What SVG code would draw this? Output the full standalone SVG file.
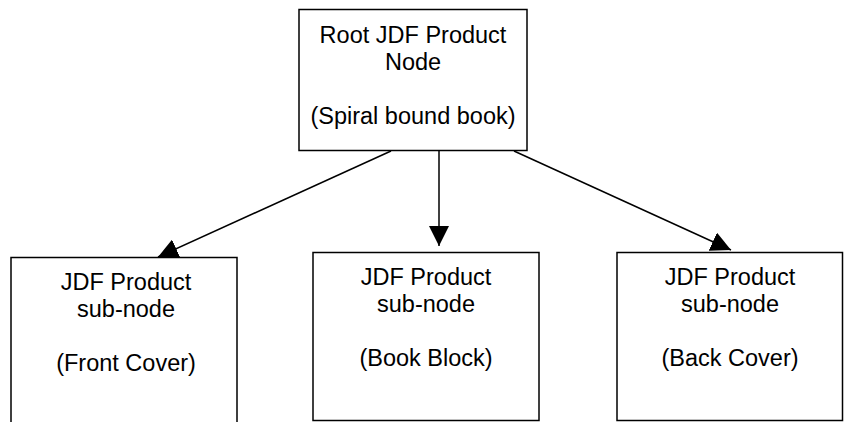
<svg xmlns="http://www.w3.org/2000/svg" width="844" height="422" viewBox="0 0 844 422">
<defs>
<style>
.box{fill:#fff;stroke:#000;stroke-width:1.5}
.lbl{font-family:"Liberation Sans",Arial,sans-serif;font-size:23.5px;fill:#000;text-anchor:middle}
.conn{stroke:#000;stroke-width:1.5;fill:none;marker-end:url(#ah)}
</style>
<marker id="ah" markerUnits="userSpaceOnUse" markerWidth="20" markerHeight="20" refX="20" refY="10" orient="auto">
<path d="M0,0 L20,10 L0,20 Z" fill="#000"/>
</marker>
</defs>
<rect width="844" height="422" fill="#fff"/>
<g id="connectors">
<line class="conn" x1="391" y1="151" x2="158" y2="257"/>
<line class="conn" x1="439" y1="151" x2="439" y2="246"/>
<line class="conn" x1="514" y1="151" x2="731" y2="250"/>
</g>
<g id="root">
<rect class="box" x="299" y="9.5" width="228" height="141"/>
<text class="lbl" x="413" y="43">Root JDF Product</text>
<text class="lbl" x="413" y="70">Node</text>
<text class="lbl" x="413" y="124">(Spiral bound book)</text>
</g>
<g id="front-cover">
<path class="box" d="M11,430 V257.5 H237 V430"/>
<text class="lbl" x="126" y="290">JDF Product</text>
<text class="lbl" x="126" y="317">sub-node</text>
<text class="lbl" x="126" y="371">(Front Cover)</text>
</g>
<g id="book-block">
<rect class="box" x="313" y="252.5" width="226" height="168"/>
<text class="lbl" x="426" y="285">JDF Product</text>
<text class="lbl" x="426" y="312">sub-node</text>
<text class="lbl" x="426" y="366">(Book Block)</text>
</g>
<g id="back-cover">
<rect class="box" x="617" y="252.5" width="225.5" height="168"/>
<text class="lbl" x="730" y="285">JDF Product</text>
<text class="lbl" x="730" y="312">sub-node</text>
<text class="lbl" x="730" y="366">(Back Cover)</text>
</g>
</svg>
